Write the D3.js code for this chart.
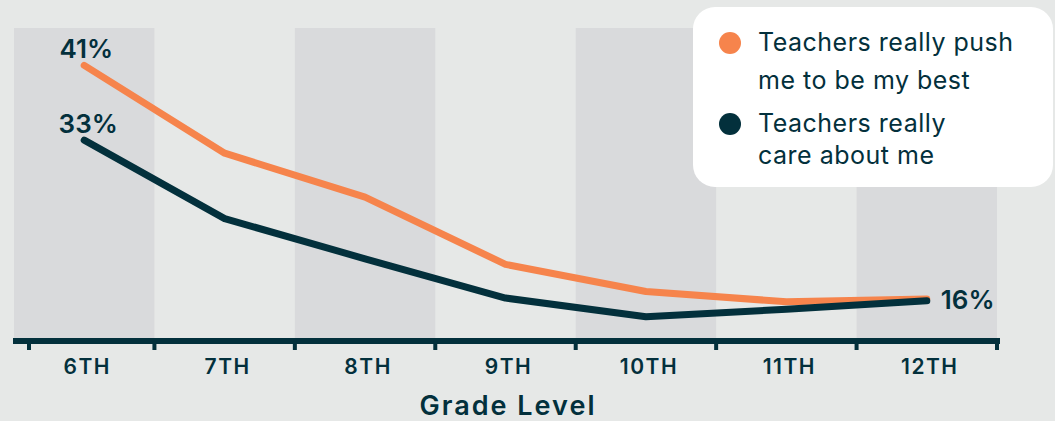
<!DOCTYPE html>
<html>
<head>
<meta charset="utf-8">
<script src="https://cdn.jsdelivr.net/npm/d3@7"></script>
<style>
  html, body { margin: 0; padding: 0; background: #e6e8e7; }
  svg { display: block; font-family: Inter, 'Open Sans', sans-serif; }
</style>
</head>
<body>
<div id='chart'></div>

<script>
  // values (percent)
  grades = ['6TH', '7TH', '8TH', '9TH', '10TH', '11TH', '12TH']
  pushValues = [41, 31.6, 26.9, 19.7, 16.8, 15.7, 16]
  careValues = [33, 24.6, 20.3, 16.1, 14.1, 14.9, 15.8]
  legendLabels = [['Teachers really push', 'me to be my best'], ['Teachers really', 'care about me']]
  axisTitle = 'Grade Level'

  width = 1055
  height = 421
  navy = '#03303c'
  orange = '#f6844c'

  svg = d3.select('#chart')
          .append('svg')
          .attr('width', width)
          .attr('height', height)

  svg.append('rect')
     .attr('width', width)
     .attr('height', height)
     .attr('fill', '#e6e8e7')

  x = d3.scaleBand()
        .domain(grades)
        .range([14, 997])
        .paddingInner(0)

  y = d3.scaleLinear()
        .domain([11.5, 45])
        .range([341, 28])

  // alternating column shading
  svg.selectAll('rect.band')
     .data(grades.filter(function(d, i) { return i % 2 == 0 }))
     .enter()
     .append('rect')
     .classed('band', true)
     .attr('x', function(d) { return x(d) })
     .attr('y', y(45))
     .attr('width', x.bandwidth())
     .attr('height', y(11.5) - y(45))
     .attr('fill', '#d9dadc')

  line = d3.line()
           .x(function(d, i) { return x(grades[i]) + x.bandwidth() / 2 })
           .y(function(d) { return y(d) })

  series = [
    { values: pushValues, color: orange },
    { values: careValues, color: navy }
  ]

  svg.selectAll('path.series')
     .data(series)
     .enter()
     .append('path')
     .classed('series', true)
     .attr('d', function(d) { return line(d.values) })
     .attr('fill', 'none')
     .attr('stroke', function(d) { return d.color })
     .attr('stroke-width', 7)
     .attr('stroke-linecap', 'round')
     .attr('stroke-linejoin', 'round')

  // axis
  svg.append('line')
     .attr('x1', 13)
     .attr('x2', 1000)
     .attr('y1', y(11.5))
     .attr('y2', y(11.5))
     .attr('stroke', navy)
     .attr('stroke-width', 6)

  tickX = grades.map(function(d) { return x(d) })
  tickX[0] = tickX[0] + 15
  tickX.push(x(grades[grades.length - 1]) + x.bandwidth())

  svg.selectAll('rect.tick')
     .data(tickX)
     .enter()
     .append('rect')
     .classed('tick', true)
     .attr('x', function(d) { return d - 2 })
     .attr('y', y(11.5))
     .attr('width', 4)
     .attr('height', 9)
     .attr('fill', navy)

  svg.selectAll('text.grade')
     .data(grades)
     .enter()
     .append('text')
     .classed('grade', true)
     .attr('x', function(d) { return x(d) + x.bandwidth() / 2 + 3 })
     .attr('y', 374)
     .attr('text-anchor', 'middle')
     .attr('font-size', 21)
     .attr('font-weight', 600)
     .attr('letter-spacing', 1.5)
     .attr('fill', navy)
     .text(function(d) { return d })

  svg.append('text')
     .attr('x', 508)
     .attr('y', 415)
     .attr('text-anchor', 'middle')
     .attr('font-size', 27)
     .attr('font-weight', 600)
     .attr('letter-spacing', 2)
     .attr('fill', navy)
     .text(axisTitle)

  // value labels
  first = x(grades[0]) + x.bandwidth() / 2
  last = x(grades[grades.length - 1]) + x.bandwidth() / 2

  svg.append('text')
     .attr('x', first + 2)
     .attr('y', y(pushValues[0]) - 7)
     .attr('text-anchor', 'middle')
     .attr('font-size', 26)
     .attr('font-weight', 600)
     .attr('fill', navy)
     .text(Math.round(pushValues[0]) + '%')

  svg.append('text')
     .attr('x', first + 4)
     .attr('y', y(careValues[0]) - 7)
     .attr('text-anchor', 'middle')
     .attr('font-size', 26)
     .attr('font-weight', 600)
     .attr('fill', navy)
     .text(Math.round(careValues[0]) + '%')

  svg.append('text')
     .attr('x', last + 14)
     .attr('y', y(pushValues[6]) + 10)
     .attr('font-size', 26)
     .attr('font-weight', 600)
     .attr('fill', navy)
     .text(Math.round(careValues[6]) + '%')

  // legend
  legend = svg.append('g')
  legend.append('rect')
        .attr('x', 693)
        .attr('y', 7)
        .attr('width', 360)
        .attr('height', 180)
        .attr('rx', 22)
        .attr('fill', '#ffffff')

  legendY = [[51, 89], [132, 164]]
  legend.selectAll('g.item')
        .data(series)
        .enter()
        .append('g')
        .classed('item', true)
        .each(function(d, i) {
          g = d3.select(this)
          g.append('circle')
           .attr('cx', 730)
           .attr('cy', legendY[i][0] - 8)
           .attr('r', 11)
           .attr('fill', d.color)
          legendLabels[i].forEach(function(t, j) {
            g.append('text')
             .attr('x', 758)
             .attr('y', legendY[i][j])
             .attr('font-size', 25)
             .attr('letter-spacing', 0.5)
             .attr('fill', navy)
             .text(t)
          })
        })
</script>
</body>
</html>
